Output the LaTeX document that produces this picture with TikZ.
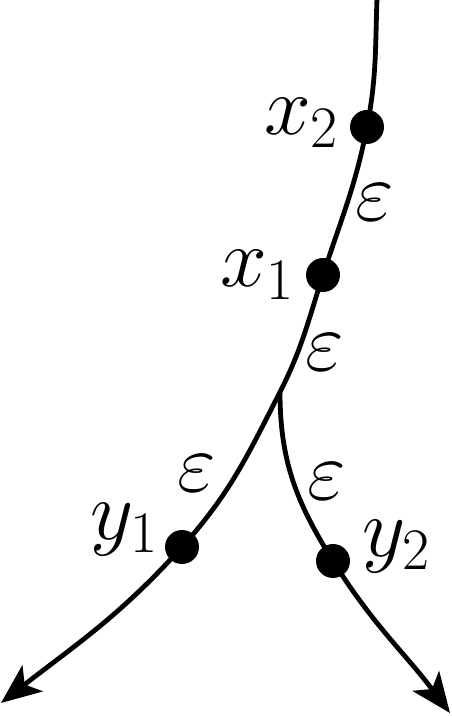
\RequirePackage{fix-cm}
\documentclass[tikz,border=0pt]{standalone}
\usetikzlibrary{arrows.meta}
\tikzset{
  curve/.style={line width=4.8pt, line cap=round},
  arrowcurve/.style={curve, -{Stealth[length=40pt,width=33pt,inset=10pt]}},
  dot/.style={circle, fill=black, minimum size=34pt, inner sep=0pt},
  lbl/.style={inner sep=0pt, anchor=base west, font=\fontsize{84}{100}\selectfont},
  eps/.style={inner sep=0pt, anchor=center, font=\fontsize{84}{100}\selectfont}
}
\begin{document}
\begin{tikzpicture}[x=1pt,y=1pt]
\useasboundingbox (0,0) rectangle (451,716);
\coordinate (top) at (377,718);
\coordinate (br) at (280,324);
\coordinate (endL) at (1,13);
\coordinate (endR) at (450,3);
\node[dot] (x2) at (367,589) {};
\node[dot] (x1) at (323,441) {};
\node[dot] (y1) at (182,169) {};
\node[dot] (y2) at (333,155) {};
\draw[arrowcurve] (top) to[out=268,in=79] (x2.center) to[out=259,in=72] (x1.center)
  to[out=252,in=63] (br) to[out=243,in=48] (y1.center) to[out=228,in=38] (endL);
\draw[arrowcurve] (br) to[out=270,in=122] (y2.center) to[out=302,in=127] (endR);
\node[lbl] (lx2) at (264,581) {$x_2$};
\node[lbl] (lx1) at (220,429) {$x_1$};
\node[lbl] (ly1) at (90,176) {$y_1$};
\node[lbl] (ly2) at (362,159) {$y_2$};
\node[eps] (e1) at (375,514) {$\varepsilon$};
\node[eps] (e2) at (325,364) {$\varepsilon$};
\node[eps] (e3) at (197,243) {$\varepsilon$};
\node[eps] (e4) at (327,235) {$\varepsilon$};
\end{tikzpicture}
\end{document}
